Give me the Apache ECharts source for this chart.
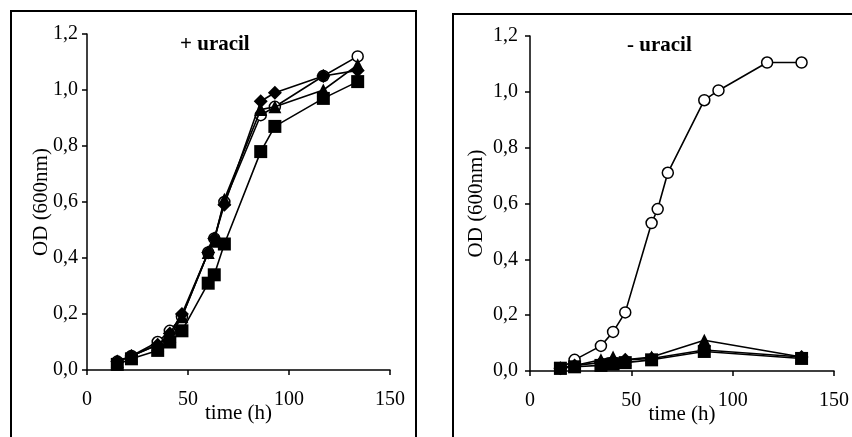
<!DOCTYPE html>
<html>
<head>
<meta charset="utf-8">
<script src="https://cdn.jsdelivr.net/npm/echarts@6/dist/echarts.min.js"></script>
<style>
  html, body { margin: 0; padding: 0; background: #fff; }
  #chart { width: 852px; height: 437px; }
</style>
</head>
<body>
<div id="chart"></div>
<script>
// sampling times (h)
const timeFull = [15, 22, 35, 41, 47, 60, 63, 68, 86, 93, 117, 134]
const timeShort = [15, 22, 35, 41, 47, 60, 86, 134]

// + uracil
const plusCircle   = [0.03, 0.05, 0.10, 0.14, 0.19, 0.42, 0.47, 0.60, 0.91, 0.94, 1.05, 1.12]
const plusDiamond  = [0.03, 0.05, 0.09, 0.13, 0.20, 0.42, 0.47, 0.59, 0.96, 0.99, 1.05, 1.07]
const plusTriangle = [0.03, 0.05, 0.09, 0.12, 0.19, 0.42, 0.46, 0.61, 0.93, 0.94, 1.00, 1.09]
const plusSquare   = [0.02, 0.04, 0.07, 0.10, 0.14, 0.31, 0.34, 0.45, 0.78, 0.87, 0.97, 1.03]

// - uracil
const minusCircle   = [0.01, 0.04, 0.09, 0.14, 0.21, 0.53, 0.58, 0.71, 0.97, 1.005, 1.105, 1.105]
const minusTriangle = [0.01, 0.02, 0.04, 0.05, 0.04, 0.05, 0.11, 0.05]
const minusDiamond  = [0.01, 0.02, 0.03, 0.035, 0.04, 0.045, 0.075, 0.05]
const minusSquare   = [0.01, 0.015, 0.02, 0.025, 0.03, 0.04, 0.07, 0.045]

const yTicks = ['0,0', '0,2', '0,4', '0,6', '0,8', '1,0', '1,2']

const pair = (xs, ys) => xs.map((x, i) => [x, ys[i]])

const font = 'Liberation Serif'
const black = '#000'

function xAxes(grid) {
  return [
    {
      gridIndex: grid, type: 'value', min: 0, max: 150, interval: 50,
      name: 'time (h)', nameLocation: 'middle', nameGap: 33, nameMoveOverlap: false,
      nameTextStyle: { fontFamily: font, fontSize: 21, color: black },
      axisLine: { lineStyle: { color: black, width: 1.5 } },
      axisTick: { length: 5, lineStyle: { color: black, width: 1.5 } },
      axisLabel: { fontFamily: font, fontSize: 20, color: black, margin: 20 },
      splitLine: { show: false }
    },
    {
      gridIndex: grid, type: 'value', min: 0, max: 150, interval: 50,
      axisLine: { show: false },
      axisTick: { inside: true, length: 5, lineStyle: { color: black, width: 1.5 } },
      axisLabel: { show: false },
      splitLine: { show: false }
    }
  ]
}

function yAxes(grid, gap, margin) {
  return [
    {
      gridIndex: grid, type: 'value', min: 0, max: 1.2, interval: 0.2,
      name: 'OD (600nm)', nameLocation: 'middle', nameGap: gap, nameMoveOverlap: false,
      nameTextStyle: { fontFamily: font, fontSize: 21, color: black },
      axisLine: { show: true, lineStyle: { color: black, width: 1.5 } },
      axisTick: { show: true, length: 5, lineStyle: { color: black, width: 1.5 } },
      axisLabel: {
        fontFamily: font, fontSize: 20, color: black, margin: margin,
        formatter: (v) => yTicks[Math.round(v / 0.2)]
      },
      splitLine: { show: false }
    },
    {
      gridIndex: grid, type: 'value', min: 0, max: 1.2, interval: 0.2,
      axisLine: { show: false },
      axisTick: { show: true, inside: true, length: 5, lineStyle: { color: black, width: 1.5 } },
      axisLabel: { show: false },
      splitLine: { show: false }
    }
  ]
}

function line(grid, data, symbol, size, hollow) {
  return {
    type: 'line',
    xAxisIndex: grid * 2,
    yAxisIndex: grid * 2,
    data: data,
    symbol: symbol,
    symbolSize: size,
    showAllSymbol: true,
    animation: false,
    lineStyle: { color: black, width: 1.6 },
    itemStyle: hollow
      ? { color: '#fff', borderColor: black, borderWidth: 1.5 }
      : { color: black, borderColor: black, borderWidth: 0 },
    z: hollow ? 1 : 2
  }
}

const chart = echarts.init(document.getElementById('chart'), null, { renderer: 'canvas' })

chart.setOption({
  backgroundColor: '#fff',
  animation: false,
  grid: [
    { left: 87, top: 34, width: 303, height: 336 },
    { left: 530, top: 36, width: 306, height: 335 }
  ],
  xAxis: [...xAxes(0), ...xAxes(1)],
  yAxis: [...yAxes(0, 35, 9), ...yAxes(1, 43, 12)],
  graphic: [
    { type: 'polyline', shape: { points: [[11, 437], [11, 11], [416, 11], [416, 437]] },
      style: { stroke: black, lineWidth: 2, fill: null } },
    { type: 'polyline', shape: { points: [[453, 437], [453, 14], [860, 14]] },
      style: { stroke: black, lineWidth: 2, fill: null } },
    { type: 'text', left: 180, top: 34,
      style: { text: '+ uracil', font: 'bold 21px "Liberation Serif"', fill: black } },
    { type: 'text', left: 627, top: 35,
      style: { text: '- uracil', font: 'bold 21px "Liberation Serif"', fill: black } }
  ],
  series: [
    line(0, pair(timeFull, plusCircle), 'circle', 11, true),
    line(0, pair(timeFull, plusSquare), 'rect', 13, false),
    line(0, pair(timeFull, plusTriangle), 'triangle', 13, false),
    line(0, pair(timeFull, plusDiamond), 'diamond', 14, false),
    line(1, pair(timeFull, minusCircle), 'circle', 11, true),
    line(1, pair(timeShort, minusSquare), 'rect', 13, false),
    line(1, pair(timeShort, minusDiamond), 'diamond', 14, false),
    line(1, pair(timeShort, minusTriangle), 'triangle', 13, false)
  ]
})
</script>
</body>
</html>
